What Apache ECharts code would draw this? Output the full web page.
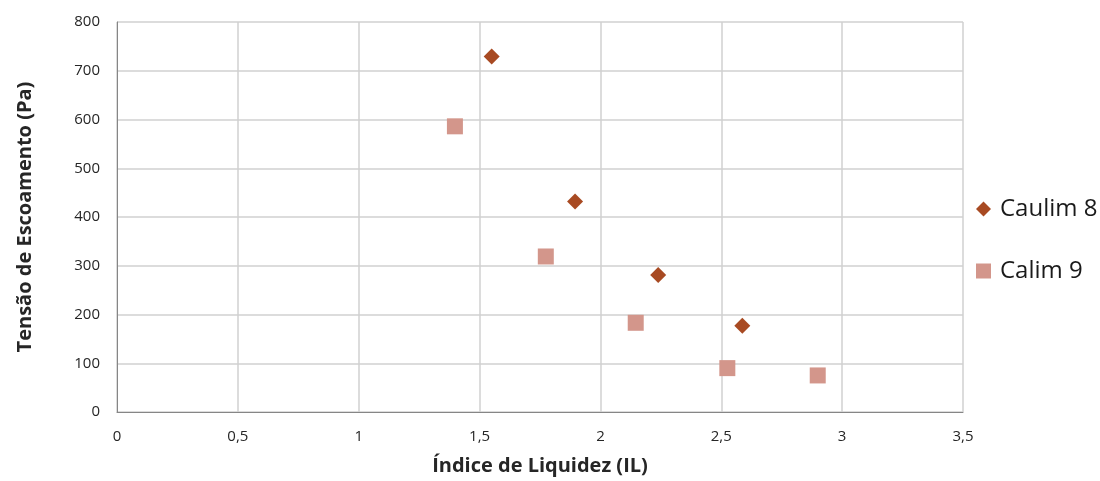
<!DOCTYPE html>
<html>
<head>
<meta charset="utf-8">
<script src="https://cdn.jsdelivr.net/npm/echarts@6/dist/echarts.min.js"></script>
<style>
  html, body { margin: 0; padding: 0; background: #fff; }
  #chart { width: 1100px; height: 481px; }
</style>
</head>
<body>
<div id="chart"></div>
<script>
// Índice de Liquidez (IL) vs Tensão de Escoamento (Pa)
const caulim8IL = [1.55, 1.895, 2.239, 2.587];
const caulim8Tensao = [729, 432, 281, 177];
const calim9IL = [1.398, 1.774, 2.146, 2.525, 2.899];
const calim9Tensao = [586, 319, 183, 90, 75];
const seriesNames = ['Caulim 8', 'Calim 9'];
const xTicks = ['0', '0,5', '1', '1,5', '2', '2,5', '3', '3,5'];

const pairs = (xs, ys) => xs.map((x, i) => [x, ys[i]]);
const font = '"Open Sans", Lato, sans-serif';

const chart = echarts.init(document.getElementById('chart'));
chart.setOption({
  animation: false,
  backgroundColor: '#fff',
  grid: { left: 117, right: 137, top: 22, bottom: 67 },
  xAxis: {
    type: 'value', min: 0, max: 3.5, interval: 0.5,
    name: 'Índice de Liquidez (IL)', nameLocation: 'middle', nameGap: 44,
    nameTextStyle: { fontFamily: font, fontWeight: 'bold', fontSize: 20, color: '#262626' },
    axisLine: { show: true, lineStyle: { color: '#868686', width: 1 } },
    axisTick: { show: false },
    axisLabel: {
      margin: 17, fontFamily: font, fontSize: 15, color: '#262626',
      formatter: v => xTicks[Math.round(v / 0.5)]
    },
    splitLine: { show: true, lineStyle: { color: '#d0d0d0', width: 1.5 } }
  },
  yAxis: {
    type: 'value', min: 0, max: 800, interval: 100,
    name: 'Tensão de Escoamento (Pa)', nameLocation: 'middle', nameGap: 82,
    nameTextStyle: { fontFamily: font, fontWeight: 'bold', fontSize: 20, color: '#262626' },
    axisLine: { show: true, lineStyle: { color: '#868686', width: 1 } },
    axisTick: { show: false },
    axisLabel: { margin: 17, fontFamily: font, fontSize: 15, color: '#262626' },
    splitLine: { show: true, lineStyle: { color: '#d0d0d0', width: 1.5 } }
  },
  legend: {
    orient: 'vertical', left: 976, top: 197, itemGap: 38, padding: 0,
    itemWidth: 15, itemHeight: 15,
    textStyle: { fontFamily: font, fontSize: 24, color: '#1a1a1a', padding: [0, 0, 0, 4] },
    data: [
      { name: seriesNames[0], icon: 'diamond' },
      { name: seriesNames[1], icon: 'rect' }
    ]
  },
  series: [
    {
      name: seriesNames[0], type: 'scatter', symbol: 'diamond', symbolSize: 16,
      itemStyle: { color: '#a84a22', opacity: 1 },
      data: pairs(caulim8IL, caulim8Tensao)
    },
    {
      name: seriesNames[1], type: 'scatter', symbol: 'rect', symbolSize: 16,
      itemStyle: { color: '#d3968b', opacity: 1 },
      data: pairs(calim9IL, calim9Tensao)
    }
  ]
});
</script>
</body>
</html>
